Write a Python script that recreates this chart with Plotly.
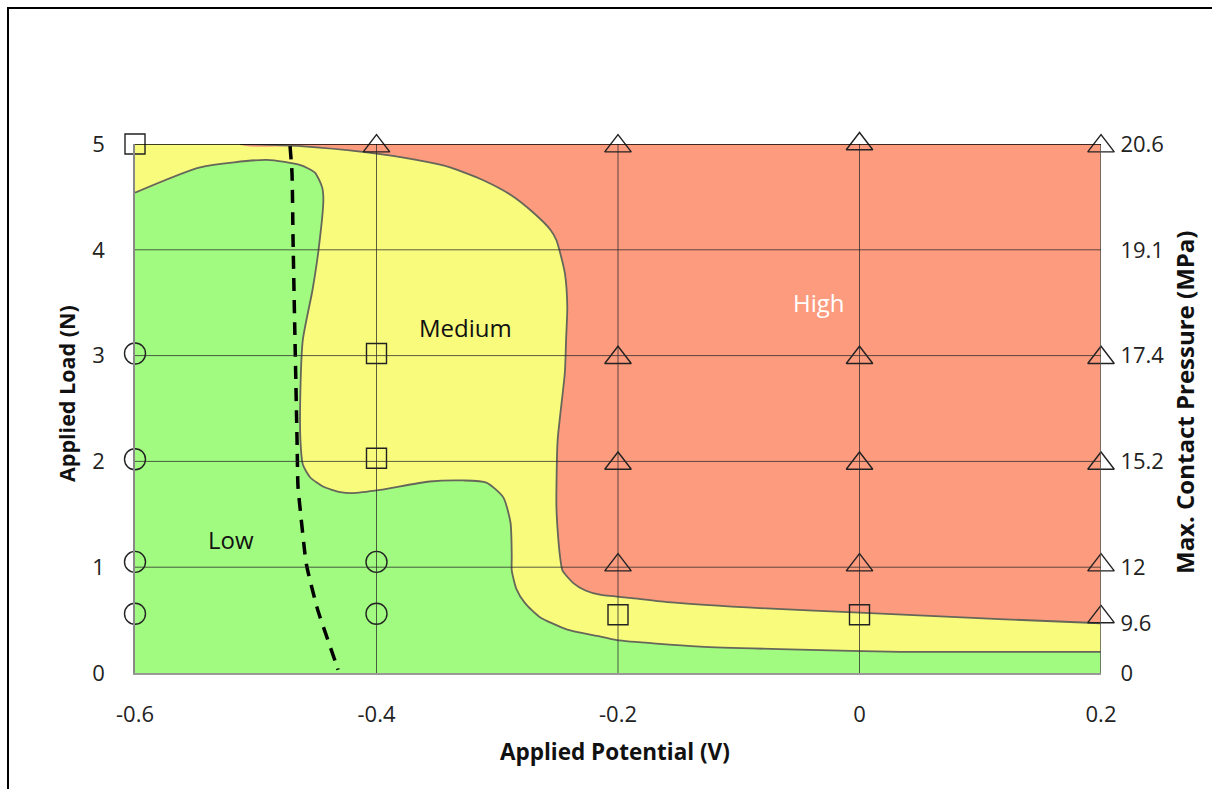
import plotly.graph_objects as go

# ---------------- data ----------------
# Low / Medium boundary (green region top edge), left edge -> right edge
low_bnd_x = [-0.600, -0.546, -0.491, -0.463, -0.451, -0.445, -0.444, -0.448, -0.453, -0.461,
             -0.463, -0.463, -0.461, -0.455, -0.444, -0.430, -0.420, -0.397, -0.356, -0.328,
             -0.309, -0.295, -0.289, -0.288, -0.288, -0.284, -0.277, -0.265, -0.242, -0.217,
             -0.201, -0.132, -0.049, 0.034, 0.115, 0.200]
low_bnd_y = [4.54, 4.78, 4.85, 4.80, 4.73, 4.59, 4.47, 4.00, 3.62, 3.15,
             2.68, 2.20, 1.97, 1.85, 1.76, 1.71, 1.70, 1.73, 1.81, 1.82,
             1.80, 1.66, 1.42, 1.10, 0.97, 0.79, 0.66, 0.53, 0.41, 0.35,
             0.31, 0.25, 0.22, 0.20, 0.20, 0.20]

# Medium / High boundary (red region edge), top edge -> right edge
high_bnd_x = [-0.513, -0.463, -0.408, -0.367, -0.339, -0.312, -0.289, -0.270, -0.256, -0.251,
              -0.244, -0.242, -0.243, -0.244, -0.250, -0.251, -0.251, -0.250, -0.248, -0.246,
              -0.237, -0.227, -0.215, -0.190, -0.159, -0.077, -0.000, 0.116, 0.200]
high_bnd_y = [5.00, 4.98, 4.92, 4.85, 4.78, 4.66, 4.52, 4.35, 4.19, 4.09,
              3.78, 3.46, 3.15, 2.84, 2.20, 1.73, 1.57, 1.35, 1.10, 0.97,
              0.85, 0.78, 0.74, 0.71, 0.67, 0.61, 0.57, 0.51, 0.47]

# dashed threshold curve
dash_x = [-0.4716, -0.4700, -0.4691, -0.4675, -0.4658, -0.4650, -0.4634, -0.4592,
          -0.4576, -0.4493, -0.4468, -0.4327, -0.4319]
dash_y = [4.98, 4.73, 4.09, 3.15, 2.20, 1.76, 1.57, 1.12, 1.00, 0.62, 0.53, 0.06, 0.03]

# experimental points
circle_x = [-0.6, -0.6, -0.6, -0.6, -0.4, -0.4]
circle_y = [3.02, 2.02, 1.05, 0.56, 1.05, 0.56]
square_x = [-0.6, -0.4, -0.4, -0.2, 0.0]
square_y = [5.0, 3.02, 2.03, 0.55, 0.55]
tri_x = [-0.4, -0.2, -0.2, -0.2, -0.2, 0.0, 0.0, 0.0, 0.0, 0.2, 0.2, 0.2, 0.2, 0.2]
tri_y = [4.98, 4.98, 2.98, 1.98, 1.02, 5.0, 2.98, 1.98, 1.02, 4.98, 2.98, 1.98, 1.02, 0.53]

# axes
x_ticks = [-0.6, -0.4, -0.2, 0.0, 0.2]
x_ticktext = ["-0.6", "-0.4", "-0.2", "0", "0.2"]
y_ticks = [0, 1, 2, 3, 4, 5]
y2_ticks = [0, 0.47, 1, 2, 3, 4, 5]
y2_ticktext = ["0", "9.6", "12", "15.2", "17.4", "19.1", "20.6"]

region_labels = ["Low", "Medium", "High"]
region_x = [-0.5205, -0.3267, -0.0335]
region_y = [1.26, 3.27, 3.50]
region_colors = ["#111111", "#111111", "#ffffff"]

# ---------------- style ----------------
GREEN = "#a0fb80"
YELLOW = "#f8fb7c"
RED = "#fd9b7e"
BND = "#66665a"
FONT = "Open Sans"

xmin, xmax, ymin, ymax = -0.6, 0.2, 0.0, 5.0

fig = go.Figure()

# green (Low) fill: boundary + bottom corners (extended outside the range; clipped)
fig.add_trace(go.Scatter(
    x=[xmin - 0.05] + low_bnd_x + [xmax + 0.05, xmax + 0.05, xmin - 0.05],
    y=[low_bnd_y[0]] + low_bnd_y + [low_bnd_y[-1], ymin - 0.5, ymin - 0.5],
    fill="toself", fillcolor=GREEN, mode="lines",
    line=dict(width=0, shape="spline", smoothing=0.6),
    hoverinfo="skip", showlegend=False))

# red (High) fill
fig.add_trace(go.Scatter(
    x=[high_bnd_x[0], *high_bnd_x, xmax + 0.05, xmax + 0.05],
    y=[ymax + 0.3, *high_bnd_y, high_bnd_y[-1], ymax + 0.3],
    fill="toself", fillcolor=RED, mode="lines",
    line=dict(width=0, shape="spline", smoothing=0.6),
    hoverinfo="skip", showlegend=False))

# boundary lines
fig.add_trace(go.Scatter(x=low_bnd_x, y=low_bnd_y, mode="lines",
                         line=dict(color=BND, width=1.8, shape="spline", smoothing=0.6),
                         hoverinfo="skip", showlegend=False))
fig.add_trace(go.Scatter(x=high_bnd_x, y=high_bnd_y, mode="lines",
                         line=dict(color=BND, width=1.8, shape="spline", smoothing=0.6),
                         hoverinfo="skip", showlegend=False))

# dashed curve
fig.add_trace(go.Scatter(x=dash_x, y=dash_y, mode="lines",
                         line=dict(color="black", width=3.5, dash="13px,9px",
                                   shape="spline", smoothing=0.6),
                         hoverinfo="skip", showlegend=False))

# markers
mk_line = dict(color="#222222", width=1.4)
fig.add_trace(go.Scatter(x=circle_x, y=circle_y, mode="markers", cliponaxis=False,
                         marker=dict(symbol="circle-open", size=21, line=mk_line, color="#222222"),
                         hoverinfo="skip", showlegend=False))
fig.add_trace(go.Scatter(x=square_x, y=square_y, mode="markers", cliponaxis=False,
                         marker=dict(symbol="square-open", size=20, line=mk_line, color="#222222"),
                         hoverinfo="skip", showlegend=False))
fig.add_trace(go.Scatter(x=tri_x, y=tri_y, mode="markers", cliponaxis=False,
                         marker=dict(symbol="triangle-up-open", size=23, line=mk_line, color="#222222"),
                         hoverinfo="skip", showlegend=False))

# right axis carrier (right plot edge)
fig.add_trace(go.Scatter(x=[xmax, xmax], y=[ymin, ymax], yaxis="y2", mode="lines",
                         line=dict(color="#555555", width=1.5),
                         hoverinfo="skip", showlegend=False))

# region labels
for t, xx, yy, c in zip(region_labels, region_x, region_y, region_colors):
    fig.add_annotation(x=xx, y=yy, text=t, showarrow=False,
                       font=dict(family=FONT, size=24, color=c))

# gridlines above the fills
for xv in x_ticks[1:-1]:
    fig.add_shape(type="line", x0=xv, x1=xv, y0=ymin, y1=ymax, xref="x", yref="y",
                  layer="above", line=dict(color="rgba(40,40,40,0.75)", width=1))
for yv in y_ticks[1:-1]:
    fig.add_shape(type="line", x0=xmin, x1=xmax, y0=yv, y1=yv, xref="x", yref="y",
                  layer="above", line=dict(color="rgba(40,40,40,0.75)", width=1))
# top edge (black)
fig.add_shape(type="line", x0=xmin, x1=xmax, y0=ymax, y1=ymax, xref="x", yref="y",
              layer="above", line=dict(color="black", width=1.5))

# outer frame
fig.add_shape(type="rect", xref="paper", yref="paper",
              x0=(8 - 135) / 966, x1=(1216 - 135) / 966,
              y0=(673 - 800) / 529, y1=(673 - 8) / 529,
              line=dict(color="black", width=2), layer="above")

# axis titles
fig.add_annotation(xref="paper", yref="paper", x=(615 - 135) / 966, y=(673 - 751) / 529,
                   text="<b>Applied Potential (V)</b>", showarrow=False,
                   font=dict(family=FONT, size=22.5, color="#111"),
                   xanchor="center", yanchor="middle")
fig.add_annotation(xref="paper", yref="paper", x=(66 - 135) / 966, y=(673 - 394) / 529,
                   text="<b>Applied Load (N)</b>", showarrow=False, textangle=-90,
                   font=dict(family=FONT, size=21.5, color="#111"),
                   xanchor="center", yanchor="middle")
fig.add_annotation(xref="paper", yref="paper", x=(1184 - 135) / 966, y=(673 - 403) / 529,
                   text="<b>Max. Contact Pressure (MPa)</b>", showarrow=False, textangle=-90,
                   font=dict(family=FONT, size=24, color="#111"),
                   xanchor="center", yanchor="middle")

tickfont = dict(family=FONT, size=22, color="#222")
fig.update_layout(
    width=1212, height=789, autosize=False,
    margin=dict(l=135, r=111, t=144, b=116),
    paper_bgcolor="white", plot_bgcolor=YELLOW,
    font=dict(family=FONT),
    xaxis=dict(range=[xmin, xmax], tickvals=x_ticks, ticktext=x_ticktext,
               showgrid=False, zeroline=False, showline=True, mirror=False,
               linecolor="#999999", linewidth=1.5,
               ticks="outside", ticklen=21, tickcolor="rgba(0,0,0,0)",
               tickfont=tickfont, layer="above traces"),
    yaxis=dict(range=[ymin, ymax], tickvals=y_ticks,
               showgrid=False, zeroline=False, showline=True,
               linecolor="#888888", linewidth=1.5,
               ticks="outside", ticklen=24, tickcolor="rgba(0,0,0,0)",
               tickfont=tickfont, layer="above traces"),
    yaxis2=dict(range=[ymin, ymax], overlaying="y", side="right",
                tickvals=y2_ticks, ticktext=y2_ticktext,
                showgrid=False, zeroline=False, showline=False,
                ticks="outside", ticklen=14, tickcolor="rgba(0,0,0,0)",
                tickfont=tickfont),
)

fig.write_html("out.html")
